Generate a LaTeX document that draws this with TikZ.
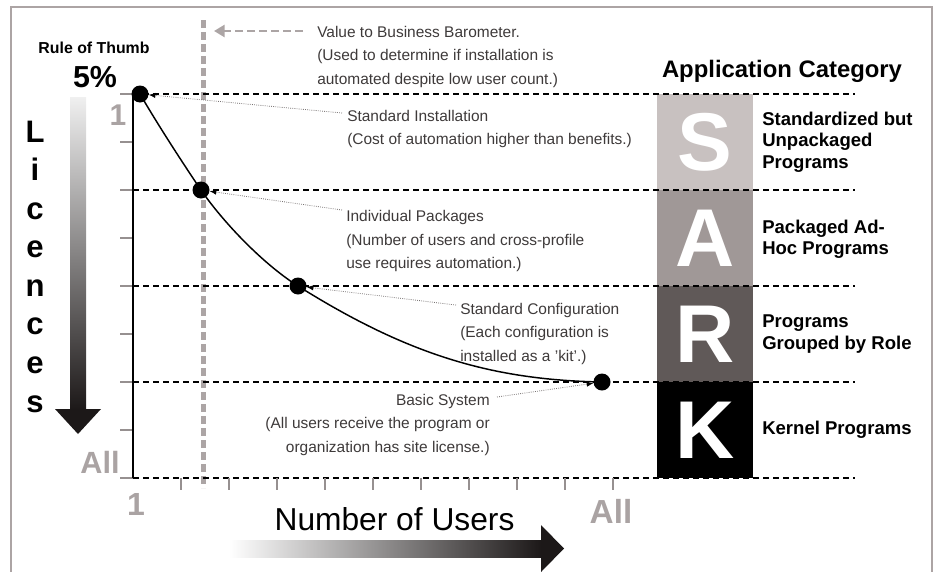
\documentclass[tikz,border=0pt]{standalone}
\usepackage{fontspec}
\setmainfont{Liberation Sans}
\usetikzlibrary{arrows.meta}
\definecolor{framegray}{RGB}{172,164,164}
\definecolor{txtgray}{RGB}{62,58,58}
\definecolor{lblgray}{RGB}{170,163,163}
\definecolor{vgray}{RGB}{172,165,165}
\definecolor{tickgray}{RGB}{150,144,144}
\definecolor{conngray}{RGB}{120,115,115}
\definecolor{blockS}{RGB}{200,193,192}
\definecolor{blockA}{RGB}{160,152,151}
\definecolor{blockR}{RGB}{96,89,88}
\definecolor{arrowdark}{RGB}{28,24,24}
\begin{document}
\begin{tikzpicture}[x=0.75pt,y=-0.75pt,
  midtext/.style={font=\fontsize{11.6}{17.6}\selectfont, text=txtgray, inner sep=0pt, align=left, anchor=base west},
  cattext/.style={font=\bfseries\fontsize{13.9}{16.1}\selectfont, align=left, anchor=west, inner sep=0pt},
  hdash/.style={line width=2pt, dash pattern=on 4.5pt off 3pt},
  dot/.style={circle, fill=black, minimum size=12.75pt, inner sep=0pt},
  conn/.style={densely dotted, draw=conngray, line width=0.6pt, -{Latex[length=5pt,width=4pt,black]}},
  tick/.style={draw=tickgray, line width=0.8pt},
  blockletter/.style={text=white, inner sep=0pt, font=\bfseries\fontsize{61.5}{61.5}\selectfont},
  axislbl/.style={text=lblgray, inner sep=0pt, anchor=base}]
\useasboundingbox (0,0) rectangle (937,571);
% frame
\draw[framegray, line width=1.5pt] (11,7) rectangle (932,600);
% category blocks
\fill[blockS] (657,94) rectangle (753,190);
\fill[blockA] (657,190) rectangle (753,286);
\fill[blockR] (657,286) rectangle (753,382);
\fill[black] (657,382) rectangle (753,478);
\node[blockletter] (bS) at (705,142) {S};
\node[blockletter] (bA) at (705,238) {A};
\node[blockletter] (bR) at (705,334) {R};
\node[blockletter] (bK) at (705,430) {K};
% vertical gray barometer line
\coordinate (vt) at (203,20);
\coordinate (vb) at (203,488);
\draw[vgray, line width=3.75pt, dash pattern=on 6pt off 3pt] (vt) -- (vb);
% horizontal dashed lines
\foreach \yy in {94,190,286,382,478}
  \draw[hdash] (133,\yy) -- (855,\yy);
% ticks
\foreach \k in {0,...,8}
  \draw[tick] (120,{94+48*\k}) -- (133,{94+48*\k});
\foreach \k in {1,...,10}
  \draw[tick] ({133+48*\k},478) -- ({133+48*\k},490);
% y axis
\coordinate (ya) at (133,94);
\coordinate (yb) at (133,478);
\draw[line width=1.1pt] (ya) -- (yb);
% dots
\coordinate (p1) at (140,94);
\coordinate (p2) at (201,190);
\coordinate (p3) at (298,286);
\coordinate (p4) at (602,382);
\draw[line width=1.1pt] (p1) .. controls (158,125) and (184,165) .. (p2)
  .. controls (223,222) and (263,264) .. (p3)
  .. controls (408,355) and (492,380) .. (p4);
\node[dot] (d1) at (p1) {};
\node[dot] (d2) at (p2) {};
\node[dot] (d3) at (p3) {};
\node[dot] (d4) at (p4) {};
% value to business arrow
\coordinate (va) at (303,31);
\coordinate (vz) at (214,31);
\draw[vgray, line width=2pt, dash pattern=on 6pt off 3pt, -{Triangle[length=8pt,width=9pt]}] (va) -- (vz);
% texts (base anchor = baseline of the last line)
\node[midtext] (tv) at (317,84) {Value to Business Barometer.\\(Used to determine if installation is\\automated despite low user count.)};
\node[midtext] (ts) at (347,144.5) {Standard Installation\\(Cost of automation higher than benefits.)};
\node[midtext] (ti) at (346,268.5) {Individual Packages\\(Number of users and cross-profile\\use requires automation.)};
\node[midtext] (tc) at (460,361) {Standard Configuration\\(Each configuration is\\installed as a 'kit'.)};
\node[midtext, align=right, anchor=base east] (tb) at (490,452) {Basic System\\(All users receive the program or\\organization has site license.)};
% connectors
\coordinate (cs) at (342,113);
\coordinate (ci) at (342,210);
\coordinate (cc) at (456,305);
\coordinate (cb) at (497,397);
\draw[conn] (cs) -- (d1);
\draw[conn] (ci) -- (d2);
\draw[conn] (cc) -- (d3);
\draw[conn] (cb) -- (d4);
% category labels
\node[font=\bfseries\fontsize{17.9}{20}\selectfont, anchor=base, inner sep=0pt] (appcat) at (782,77) {Application Category};
\node[cattext] (lS) at (762,142) {Standardized but\\Unpackaged\\Programs};
\node[cattext] (lA) at (762,239) {Packaged Ad-\\Hoc Programs};
\node[cattext] (lR) at (762,334) {Programs\\Grouped by Role};
\node[cattext] (lK) at (762,430) {Kernel Programs};
% left side
\node[font=\bfseries\fontsize{11.9}{14}\selectfont, anchor=base, inner sep=0pt] (rot) at (94,53) {Rule of Thumb};
\node[font=\bfseries\fontsize{22.8}{24}\selectfont, anchor=base, inner sep=0pt] (pct) at (95,87) {5\%};
\node[font=\bfseries\fontsize{23.3}{28.9}\selectfont, anchor=base, align=center, inner sep=0pt] (lic) at (35,412) {L\\i\\c\\e\\n\\c\\e\\s};
\shade[top color=gray!12, bottom color=arrowdark] (70,97) rectangle (86,410);
\fill[arrowdark] (55,409) -- (101,409) -- (78,434) -- cycle;
\node[axislbl, font=\bfseries\fontsize{22.5}{24}\selectfont] (y1) at (118,125) {1};
\node[axislbl, font=\bfseries\fontsize{23}{24}\selectfont] (yall) at (100,473) {All};
\node[axislbl, font=\bfseries\fontsize{24}{24}\selectfont] (x1) at (136,515) {1};
\node[axislbl, font=\bfseries\fontsize{25}{24}\selectfont] (xall) at (611,523) {All};
% number of users
\node[font=\fontsize{23.8}{26}\selectfont, anchor=base, inner sep=0pt] (nou) at (394.5,530) {Number of Users};
\shade[left color=white, right color=arrowdark] (229,540) rectangle (542,557);
\fill[arrowdark] (541,525) -- (564,548.5) -- (541,572) -- cycle;
\end{tikzpicture}
\end{document}
